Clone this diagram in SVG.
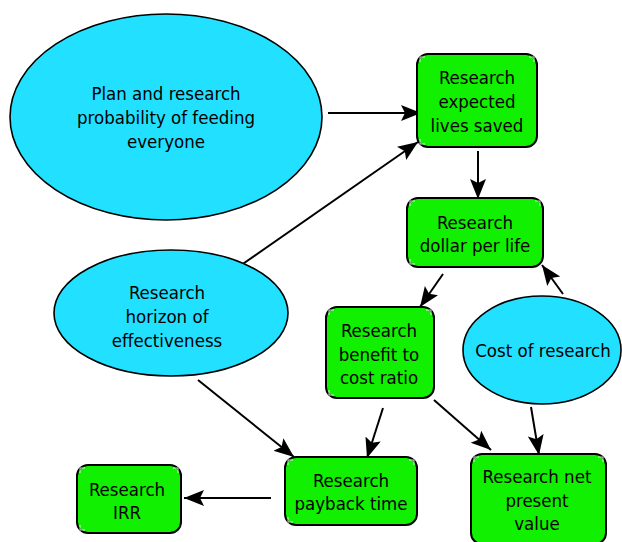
<svg xmlns="http://www.w3.org/2000/svg" width="622" height="542" viewBox="0 0 622 542">
<defs>
<marker id="ah" markerUnits="userSpaceOnUse" markerWidth="22" markerHeight="18" refX="20" refY="9" orient="auto">
<path d="M0,1 L20,9 L0,17 L4,9 Z" fill="#000"/>
</marker>
<style>
.ell{fill:#22e0ff;stroke:#000;stroke-width:1.6}
.box{fill:#11f000;stroke:#000;stroke-width:2}
.cm{fill:none;stroke:#fff;stroke-width:1;opacity:0.8}
.t{font-family:"DejaVu Sans Condensed","DejaVu Sans","Liberation Sans",sans-serif;font-stretch:condensed;font-size:18.5px;fill:#000;text-anchor:middle;dominant-baseline:central}
.c{stroke:#000;stroke-width:2;fill:none;marker-end:url(#ah)}
</style>
</defs>
<rect width="622" height="542" fill="#fff"/>
<g id="connectors">
<line class="c" x1="328" y1="113" x2="421" y2="113"/>
<line class="c" x1="237" y1="268" x2="418" y2="142"/>
<line class="c" x1="478" y1="151" x2="478" y2="199"/>
<line class="c" x1="443" y1="274" x2="420" y2="307"/>
<line class="c" x1="563" y1="294" x2="542" y2="265"/>
<line class="c" x1="383" y1="408" x2="367" y2="458"/>
<line class="c" x1="434" y1="400" x2="491" y2="450"/>
<line class="c" x1="531" y1="407" x2="539" y2="455"/>
<line class="c" x1="198" y1="380" x2="294" y2="457"/>
<line class="c" x1="271" y1="498" x2="184" y2="498"/>
</g>
<g id="plan">
<ellipse class="ell" cx="166" cy="117" rx="156" ry="103"/>
<text class="t" x="166" y="93">Plan and research</text>
<text class="t" x="166" y="117">probability of feeding</text>
<text class="t" x="166" y="141">everyone</text>
</g>
<g id="horizon">
<ellipse class="ell" cx="171" cy="313" rx="117" ry="63"/>
<text class="t" x="167" y="292">Research</text>
<text class="t" x="167" y="316">horizon of</text>
<text class="t" x="167" y="340">effectiveness</text>
</g>
<g id="cost">
<ellipse class="ell" cx="542" cy="350" rx="79" ry="54"/>
<text class="t" x="543" y="350">Cost of research</text>
</g>
<g id="lives">
<rect class="box" x="417" y="54" width="120" height="93" rx="11"/>
<path class="cm" d="M420,62 V57 H425 M534,62 V57 H529 M420,139 V144 H425"/>
<text class="t" x="477" y="77">Research</text>
<text class="t" x="477" y="101">expected</text>
<text class="t" x="477" y="125">lives saved</text>
</g>
<g id="dollar">
<rect class="box" x="407" y="198" width="136" height="69" rx="11"/>
<path class="cm" d="M410,206 V201 H415 M540,206 V201 H535 M410,259 V264 H415"/>
<text class="t" x="475" y="222">Research</text>
<text class="t" x="475" y="245">dollar per life</text>
</g>
<g id="benefit">
<rect class="box" x="326" y="307" width="108" height="91" rx="11"/>
<path class="cm" d="M329,315 V310 H334 M431,315 V310 H426 M329,390 V395 H334"/>
<text class="t" x="379" y="330">Research</text>
<text class="t" x="379" y="354">benefit to</text>
<text class="t" x="379" y="377">cost ratio</text>
</g>
<g id="irr">
<rect class="box" x="77" y="465" width="104" height="68" rx="11"/>
<path class="cm" d="M80,473 V468 H85 M178,473 V468 H173 M80,525 V530 H85"/>
<text class="t" x="127" y="489">Research</text>
<text class="t" x="127" y="512">IRR</text>
</g>
<g id="payback">
<rect class="box" x="285" y="457" width="132" height="68" rx="11"/>
<path class="cm" d="M288,465 V460 H293 M414,465 V460 H409 M288,517 V522 H293"/>
<text class="t" x="351" y="480">Research</text>
<text class="t" x="351" y="503">payback time</text>
</g>
<g id="npv">
<rect class="box" x="471" y="454" width="135" height="90" rx="11"/>
<path class="cm" d="M474,462 V457 H479 M603,462 V457 H598"/>
<text class="t" x="537" y="476">Research net</text>
<text class="t" x="537" y="500">present</text>
<text class="t" x="537" y="523">value</text>
</g>
</svg>
